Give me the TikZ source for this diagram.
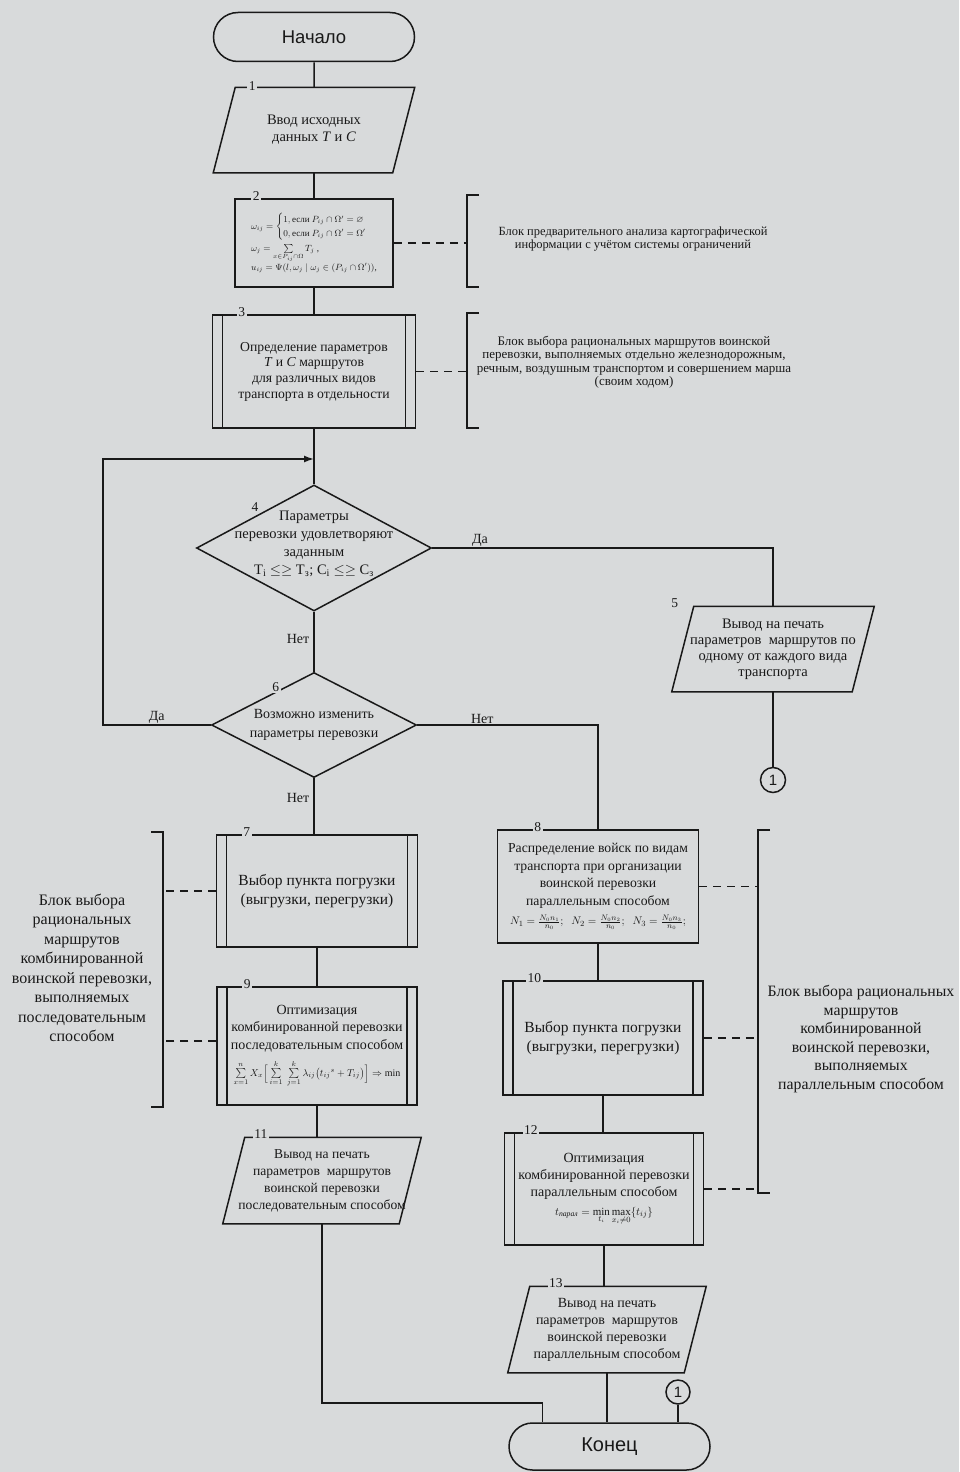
\documentclass[tikz,border=0pt]{standalone}
\usepackage{amsmath,amssymb}
\usepackage{fontspec}
\setmainfont{Liberation Serif}
\setsansfont{Liberation Sans}
\usetikzlibrary{shapes.geometric,shapes.misc,arrows.meta,calc,positioning}
\definecolor{sfondo}{RGB}{216,218,219}
\definecolor{ink}{RGB}{25,25,25}
\tikzset{
  blk/.style={draw=ink,line width=1.5pt,text=ink,align=center,inner sep=2pt,font=\fontsize{14}{17}\selectfont},
  term/.style={blk,rounded rectangle,minimum width=205pt,minimum height=49pt,font=\sffamily\fontsize{18.5}{20}\selectfont},
  proc/.style={blk,rectangle},
  predef/.style={proc,path picture={
      \draw[ink,line width=1.5pt] ([xshift=10pt]path picture bounding box.north west) -- ([xshift=10pt]path picture bounding box.south west)
        ([xshift=-10pt]path picture bounding box.north east) -- ([xshift=-10pt]path picture bounding box.south east);}},
  io/.style={blk,draw=none,append after command={\pgfextra{
      \draw[ink,line width=1.5pt] ([xshift=-11pt]\tikzlastnode.south west) -- ([xshift=11pt]\tikzlastnode.north west)
        -- ([xshift=11pt]\tikzlastnode.north east) -- ([xshift=-11pt]\tikzlastnode.south east) -- cycle;}}},
  decis/.style={blk,diamond,inner sep=0pt},
  num/.style={fill=sfondo,text=ink,inner sep=1.5pt,font=\fontsize{13.5}{13.5}\selectfont},
  conn/.style={circle,draw=ink,line width=1.5pt,minimum size=25pt,inner sep=0pt,text=ink,font=\sffamily\fontsize{15}{15}\selectfont},
  note/.style={text=ink,align=center,inner sep=0pt},
  flow/.style={ink,line width=1.5pt},
  cmtline/.style={ink,line width=1.5pt,dash pattern=on 8pt off 6pt},
  lbl/.style={text=ink,font=\fontsize{14}{14}\selectfont,inner sep=1pt}
}
\begin{document}
\begin{tikzpicture}[x=1pt,y=-1pt]
%sfondo
\fill[sfondo] (0,0) rectangle (959,1472);
\useasboundingbox (0,0) rectangle (959,1472);
%blocchi a sinistra
\node[term] (start) at (314,37) {Начало};
\node[io,minimum width=178pt,minimum height=84pt,font=\fontsize{14.5}{17}\selectfont] (b1) at (314,130) {Ввод исходных\\данных \textit{T} и \textit{C}};
\node[proc,minimum width=158pt,minimum height=88pt,align=left,font=\fontsize{9}{11}\selectfont] (b2) at (314,243)
  {$\omega_{ij}=\begin{cases}1,\text{если }P_{ij}\cap\Omega'=\varnothing\\0,\text{если }P_{ij}\cap\Omega'=\Omega'\end{cases}$\\[3pt]
   $\omega_{j}=\sum\limits_{x\in P_{ij}\cap\Omega}T_j$ ,\\
   $u_{ij}=\Psi(l,\omega_j\mid\omega_j\in(P_{ij}\cap\Omega'))$,};
\node[predef,minimum width=203pt,minimum height=113pt,font=\fontsize{13.7}{15.7}\selectfont] (b3) at (314,371.5)
  {Определение параметров\\\textit{T} и \textit{C} маршрутов\\для различных видов\\транспорта в отдельности};
\node[decis,minimum width=235pt,minimum height=126pt] (d4) at (314,548) {};
\node[note,font=\fontsize{14.5}{18}\selectfont] (d4t) at ([yshift=4pt]d4.center)
  {Параметры\\перевозки удовлетворяют\\заданным\\T$_\mathrm{i}$ $\leq\geq$ T$_\text{з}$; C$_\mathrm{i}$ $\leq\geq$ C$_\text{з}$};
\node[decis,minimum width=205pt,minimum height=105pt] (d6) at (314,725) {};
\node[note,font=\fontsize{14}{19}\selectfont] (d6t) at (d6.center) {Возможно изменить\\параметры перевозки};
\node[predef,minimum width=201pt,minimum height=112pt,font=\fontsize{15.5}{19}\selectfont] (b7) at (317,891)
  {Выбор пункта погрузки\\(выгрузки, перегрузки)};
\node[predef,minimum width=200pt,minimum height=118pt,font=\fontsize{14}{17.5}\selectfont] (b9) at (317,1046)
  {Оптимизация\\комбинированной перевозки\\последовательным способом\\[8pt]
   {\fontsize{10}{14}\selectfont$\sum\limits_{x=1}^{n}X_x\Bigl[\,\sum\limits_{i=1}^{k}\;\sum\limits_{j=1}^{k}\lambda_{ij}\bigl({t_{ij}}^{s}+T_{ij}\bigr)\Bigr]\Rightarrow\min$}};
\node[io,minimum width=175pt,minimum height=85pt,font=\fontsize{13.6}{17}\selectfont] (b11) at (322,1180.5)
  {Вывод на печать\\параметров\ \ маршрутов\\воинской перевозки\\последовательным способом};
%blocchi a destra
\node[io,minimum width=179pt,minimum height=84pt,font=\fontsize{14.5}{16}\selectfont] (b5) at (773,649)
  {Вывод на печать\\параметров\ \ маршрутов по\\одному от каждого вида\\транспорта};
\node[conn] (c1) at (773,780) {1};
\node[proc,minimum width=201pt,minimum height=113pt,font=\fontsize{13.7}{17.5}\selectfont] (b8) at (598,886.5)
  {Распределение войск по видам\\транспорта при организации\\воинской перевозки\\параллельным способом\\[2pt]
   {\fontsize{11}{14}\selectfont$N_1=\frac{N_0n_1}{n_0};\;\; N_2=\frac{N_0n_2}{n_0};\;\; N_3=\frac{N_0n_3}{n_0};$}};
\node[predef,minimum width=200pt,minimum height=114pt,font=\fontsize{15.5}{19}\selectfont] (b10) at (603,1038)
  {Выбор пункта погрузки\\(выгрузки, перегрузки)};
\node[predef,minimum width=199pt,minimum height=112pt,font=\fontsize{14}{17}\selectfont] (b12) at (604,1189)
  {Оптимизация\\комбинированной перевозки\\параллельным способом\\[2pt]
   {\fontsize{11}{15}\selectfont$t_{\textit{парал}}=\min\limits_{t_i}\max\limits_{x_i\neq0}\{t_{ij}\}$}};
\node[io,minimum width=175pt,minimum height=85pt,font=\fontsize{14}{17}\selectfont] (b13) at (607,1329.5)
  {Вывод на печать\\параметров\ \ маршрутов\\воинской перевозки\\параллельным способом};
\node[conn,minimum size=24pt] (c1b) at (678,1392) {1};
\node[term,minimum height=47pt,font=\sffamily\fontsize{20}{20}\selectfont] (stop) at (609.5,1446.5) {Конец};
%numeri
\node[num] (n1) at ([xshift=28pt,yshift=1pt]b1.north west) {1};
\node[num] (n2) at ([xshift=22pt,yshift=2pt]b2.north west) {2};
\node[num] (n3) at ([xshift=30pt,yshift=2pt]b3.north west) {3};
\node[num] (n4) at ($(d4.north)!0.5!(d4.west)+(0,-9)$) {4};
\node[num] (n5) at ([xshift=-8pt,yshift=3pt]b5.north west) {5};
\node[num] (n6) at ($(d6.north)!0.37!(d6.west)+(0,-4)$) {6};
\node[num] (n7) at ([xshift=31pt,yshift=2pt]b7.north west) {7};
\node[num] (n8) at ([xshift=41pt,yshift=2pt]b8.north west) {8};
\node[num] (n9) at ([xshift=31pt,yshift=2pt]b9.north west) {9};
\node[num] (n10) at ([xshift=32pt,yshift=2pt]b10.north west) {10};
\node[num] (n11) at ([xshift=27pt,yshift=3pt]b11.north west) {11};
\node[num] (n12) at ([xshift=27pt,yshift=2pt]b12.north west) {12};
\node[num] (n13) at ([xshift=37pt,yshift=3pt]b13.north west) {13};
%collegamenti
\coordinate (merge) at (314,459);
\draw[flow] (start) -- (b1);
\draw[flow] (b1) -- (b2);
\draw[flow] (b2) -- (b3);
\draw[flow] (b3) -- (d4);
\draw[flow] (d4) -- node[lbl,left=3pt,pos=0.45] {Нет} (d6);
\draw[flow] (d4.east) -| node[lbl,above,pos=0.07] {Да} (b5.north);
\draw[flow] (b5) -- (c1);
\draw[flow,-{Latex[length=10pt,width=7pt]}] (d6.west) -- node[lbl,above] {Да} ++(-108,0) |- (merge);
\draw[flow] (d6.south) -- node[lbl,left=3pt,pos=0.36] {Нет} (d6.south |- b7.north);
\draw[flow] (d6.east) -| node[lbl,above,pos=0.18] {Нет} (b8.north);
\draw[flow] (b7.south) -- (b7.south |- b9.north);
\draw[flow] (b9.south) -- (b9.south |- b11.north);
\draw[flow] (b11.south) -- ++(0,179) -| ([xshift=-67pt]stop.north);
\draw[flow] (b8.south) -- (b8.south |- b10.north);
\draw[flow] (b10.south) -- (b10.south |- b12.north);
\draw[flow] (b12.south) -- (b12.south |- b13.north);
\draw[flow] (b13.south) -- (b13.south |- stop.north);
\draw[flow] (c1b) -- (c1b |- stop.north);
%commenti
\coordinate (k2a) at (467,195); \coordinate (k2b) at (467,287);
\coordinate (k3a) at (467,313); \coordinate (k3b) at (467,428);
\coordinate (k7a) at (163,832); \coordinate (k7b) at (163,1107);
\coordinate (k8a) at (758,830); \coordinate (k8b) at (758,1193);
\draw[flow] ([xshift=12pt]k2a) -- (k2a) -- (k2b) -- ([xshift=12pt]k2b);
\draw[flow] ([xshift=12pt]k3a) -- (k3a) -- (k3b) -- ([xshift=12pt]k3b);
\draw[flow] ([xshift=-12pt]k7a) -- (k7a) -- (k7b) -- ([xshift=-12pt]k7b);
\draw[flow] ([xshift=12pt]k8a) -- (k8a) -- (k8b) -- ([xshift=12pt]k8b);
\draw[cmtline] (b2.east) -- (b2.east -| k2a);
\draw[cmtline] (b3.east) -- (b3.east -| k3a);
\draw[cmtline] (b7.west) -- (b7.west -| k7a);
\draw[cmtline] ([yshift=5pt]b9.west) -- ([yshift=5pt]b9.west -| k7a);
\draw[cmtline] (b8.east) -- (b8.east -| k8a);
\draw[cmtline] (b10.east) -- (b10.east -| k8a);
\draw[cmtline] (b12.east) -- (b12.east -| k8a);
\node[note,font=\fontsize{12.5}{13}\selectfont] (t2) at (633,239)
  {Блок предварительного анализа картографической\\информации с учётом системы ограничений};
\node[note,font=\fontsize{13}{13.5}\selectfont] (t3) at (634,362)
  {Блок выбора рациональных маршрутов воинской\\перевозки, выполняемых отдельно железнодорожным,\\речным, воздушным транспортом и совершением марша\\(своим ходом)};
\node[note,font=\fontsize{16}{19.5}\selectfont] (t7) at (82,968)
  {Блок выбора\\рациональных\\маршрутов\\комбинированной\\воинской перевозки,\\выполняемых\\последовательным\\способом};
\node[note,font=\fontsize{15.8}{18.6}\selectfont] (t8) at (861,1039)
  {Блок выбора рациональных\\маршрутов\\комбинированной\\воинской перевозки,\\выполняемых\\параллельным способом};
\end{tikzpicture}
\end{document}
